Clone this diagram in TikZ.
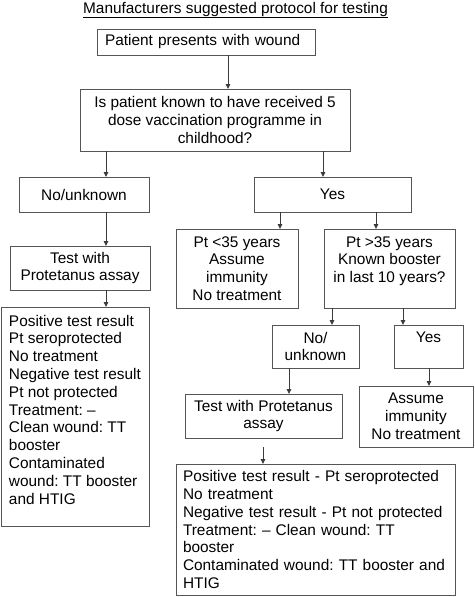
\documentclass[tikz,border=0pt]{standalone}
\usepackage{fontspec}
\setmainfont{Liberation Sans}
\usetikzlibrary{arrows.meta}
\frenchspacing
\newcommand\fsz{\fontsize{15.4pt}{17.8pt}\selectfont\frenchspacing}
\definecolor{bord}{HTML}{555555}
\tikzset{
  bx/.style={draw=bord, line width=0.9pt, inner sep=0pt, outer sep=0pt, font=\fsz, align=center},
  arr/.style={draw=bord!70!black, line width=0.9pt, -{Triangle[length=5pt,width=4.5pt]}},
}
\begin{document}
\begin{tikzpicture}[x=1pt,y=-1pt]
\useasboundingbox (0,0) rectangle (474,597);
\node[font=\fsz, inner sep=0pt, anchor=base] (title) at (235.5,13) {\underline{Manufacturers suggested protocol for testing}};
\node[bx, minimum width=218pt, minimum height=26pt, text width=202pt, align=left] (n1) at (206,42) {Patient presents with wound};
\node[bx, minimum width=270pt, minimum height=62pt] (n2) at (215,120) {Is patient known to have received 5\\dose vaccination programme in\\childhood?};
\node[bx, minimum width=130pt, minimum height=35pt] (nu) at (84,194.5) {No/unknown};
\node[bx, minimum width=157pt, minimum height=35pt] (ny) at (332.5,194.5) {Yes};
\node[bx, minimum width=140pt, minimum height=44pt] (nt1) at (80,268) {Test with\\Protetanus assay};
\node[bx, inner sep=8pt, anchor=north west] (nb1) at (1,307) {\parbox[c][203pt][t]{132pt}{\raggedright\frenchspacing Positive test result\\Pt seroprotected\\No treatment\\Negative test result\\Pt not protected\\Treatment: –\\Clean wound: TT\\booster\\Contaminated\\wound: TT booster\\and HTIG}};
\node[bx, minimum width=122pt, minimum height=79pt] (n35a) at (237,268.5) {Pt <35 years\\Assume\\immunity\\No treatment};
\node[bx, minimum width=131pt, minimum height=79pt] (n35b) at (389.5,268.5) {Pt >35 years\\Known booster\\in last 10 years?\\\mbox{}};
\node[bx, minimum width=87pt, minimum height=43pt] (nno) at (315.5,346.5) {No/\\unknown};
\node[bx, minimum width=69pt, minimum height=43pt] (nyes) at (428.5,346.5) {Yes\\\mbox{}};
\node[bx, minimum width=157pt, minimum height=44pt] (nt2) at (263.5,416) {Test with Protetanus\\assay};
\node[bx, minimum width=114pt, minimum height=61pt] (nai) at (416,416.5) {Assume\\immunity\\No treatment};
\node[bx, minimum width=279pt, minimum height=131pt, text width=265pt, align=left] (nb2) at (315.5,529.5) {Positive test result - Pt seroprotected\\No treatment\\Negative test result - Pt not protected\\Treatment: – Clean wound: TT\\booster\\Contaminated wound: TT booster and\\HTIG};
% connectors
\draw[arr] ([xshift=22pt]n1.south) -- ([xshift=22pt]n1.south |- n2.north);
\draw[arr] ([xshift=-109pt]n2.south) -- ([xshift=-109pt]n2.south |- nu.north);
\draw[arr] ([xshift=108pt]n2.south) -- ([xshift=108pt]n2.south |- ny.north);
\draw[arr] ([xshift=22pt]nu.south) -- ([xshift=22pt]nu.south |- nt1.north);
\draw[arr] ([xshift=26pt]nt1.south) -- ([xshift=26pt]nt1.south |- nb1.north);
\draw[arr] ([xshift=-52.5pt]ny.south) -- ([xshift=-52.5pt]ny.south |- n35a.north);
\draw[arr] ([xshift=43.5pt]ny.south) -- ([xshift=43.5pt]ny.south |- n35b.north);
\draw[arr] ([xshift=-57.5pt]n35b.south) -- ([xshift=-57.5pt]n35b.south |- nno.north);
\draw[arr] ([xshift=13.5pt]n35b.south) -- ([xshift=13.5pt]n35b.south |- nyes.north);
\draw[arr] ([xshift=-26.5pt]nno.south) -- ([xshift=-26.5pt]nno.south |- nt2.north);
\draw[arr] ([xshift=0.5pt]nyes.south) -- ([xshift=0.5pt]nyes.south |- nai.north);
\draw[arr, shorten <=9pt] ([xshift=-0.5pt]nt2.south) -- ([xshift=-0.5pt]nt2.south |- nb2.north);
\end{tikzpicture}
\end{document}
